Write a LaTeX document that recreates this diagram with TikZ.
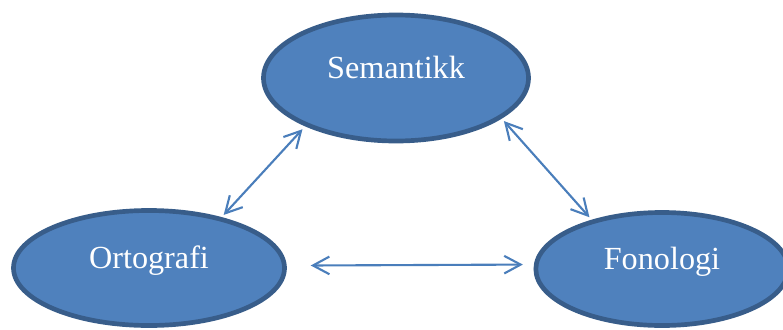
\documentclass[tikz,border=0pt]{standalone}
\usepackage{fontspec}
\setmainfont{Liberation Serif}
\usetikzlibrary{shapes.geometric,arrows.meta}
\definecolor{ovalfill}{HTML}{4F81BD}
\definecolor{ovaldraw}{HTML}{385D8A}
\definecolor{linkblue}{HTML}{4A7EBB}
\tikzset{
    concept/.style={ellipse, draw=ovaldraw, fill=ovalfill, line width=4pt, inner sep=0pt},
    word/.style={text=white, font=\fontsize{27.5}{32}\selectfont, inner sep=0pt, anchor=base},
    link/.style={draw=linkblue, line width=1.8pt, {Straight Barb[length=14pt,width=15pt]}-{Straight Barb[length=14pt,width=15pt]}}
}

\begin{document}
\begin{tikzpicture}[x=0.03cm, y=-0.03cm]
    \useasboundingbox (0,0) rectangle (783,329);
    % the three ovals
    \node[concept, minimum width=7.95cm, minimum height=3.78cm] (sem) at (396,78) {};
    \node[concept, minimum width=8.13cm, minimum height=3.45cm] (orto) at (149,268) {};
    \node[concept, minimum width=7.57cm, minimum height=3.39cm] (fono) at (662,269) {};
    \node[word] (semword) at (sem.center) {Semantikk};
    \node[word] (ortoword) at (orto.center) {Ortografi};
    \node[word] (fonoword) at (fono.center) {Fonologi};

    % two-way links
    \draw[link, shorten <=0.12cm, shorten >=0.09cm] (sem.208) -- (orto.35);
    \draw[link, shorten <=0.72cm, shorten >=0.33cm] (orto.1.5) -- (fono.178.5);
    \draw[link, shorten <=0.1cm, shorten >=0.1cm] (sem.339) -- (fono.145);
\end{tikzpicture}
\end{document}
